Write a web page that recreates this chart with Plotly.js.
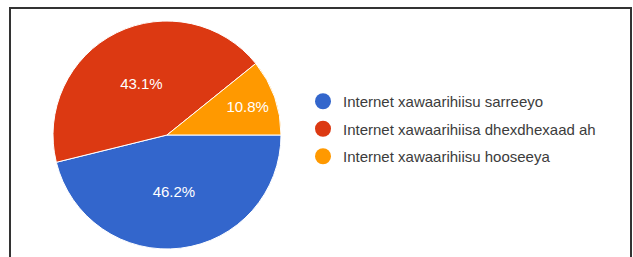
<!DOCTYPE html>
<html>
<head>
<meta charset="utf-8">
<script src="https://cdn.plot.ly/plotly-3.0.1.min.js"></script>
<style>html,body{margin:0;padding:0;background:#fff;}#chart{width:633px;height:257px;}</style>
</head>
<body>
<div id="chart"></div>
<script>
const categories = ["Internet xawaarihiisu sarreeyo", "Internet xawaarihiisa dhexdhexaad ah", "Internet xawaarihiisu hooseeya"];
const values = [46.2, 43.1, 10.8];
const colors = ["#3366cc", "#dc3912", "#ff9900"];

const W = 633, H = 257;
const traces = [{
  type: "pie",
  values: values,
  labels: categories,
  sort: false,
  direction: "clockwise",
  rotation: 90,
  marker: {colors: colors, line: {color: "#ffffff", width: 1}},
  textinfo: "percent",
  texttemplate: "%{percent:.1%}",
  textposition: "inside",
  insidetextorientation: "horizontal",
  textfont: {family: "Liberation Sans, Arial, sans-serif", size: 15, color: "#ffffff"},
  showlegend: false,
  hoverinfo: "label+percent",
  domain: {x: [53 / W, 281 / W], y: [(H - 249) / H, (H - 21) / H]}
}];
categories.forEach((c, i) => {
  traces.push({
    type: "scatter", mode: "markers", x: [null], y: [null],
    name: c, legendgroup: "g" + i,
    marker: {symbol: "circle", size: 16, color: colors[i]},
    showlegend: true, hoverinfo: "skip"
  });
});

const layout = {
  width: W, height: H,
  margin: {l: 0, r: 0, t: 0, b: 0},
  paper_bgcolor: "#ffffff", plot_bgcolor: "#ffffff",
  font: {family: "Liberation Sans, Arial, sans-serif", size: 15, color: "#3c3c3c"},
  xaxis: {visible: false, domain: [0.6, 0.61]},
  yaxis: {visible: false, domain: [0.6, 0.61]},
  showlegend: true,
  legend: {x: 303 / W, xanchor: "left", y: (H - 129) / H, yanchor: "middle",
    traceorder: "grouped", tracegroupgap: 5, bgcolor: "rgba(0,0,0,0)",
    font: {family: "Liberation Sans, Arial, sans-serif", size: 15, color: "#3c3c3c"}},
  shapes: [{
    type: "path", xref: "paper", yref: "paper",
    path: `M ${10 / W} 0 L ${10 / W} ${(H - 8) / H} L ${631 / W} ${(H - 8) / H} L ${631 / W} 0`,
    line: {color: "#333333", width: 2}
  }]
};
Plotly.newPlot("chart", traces, layout, {displayModeBar: false, staticPlot: true});
</script>
</body>
</html>
